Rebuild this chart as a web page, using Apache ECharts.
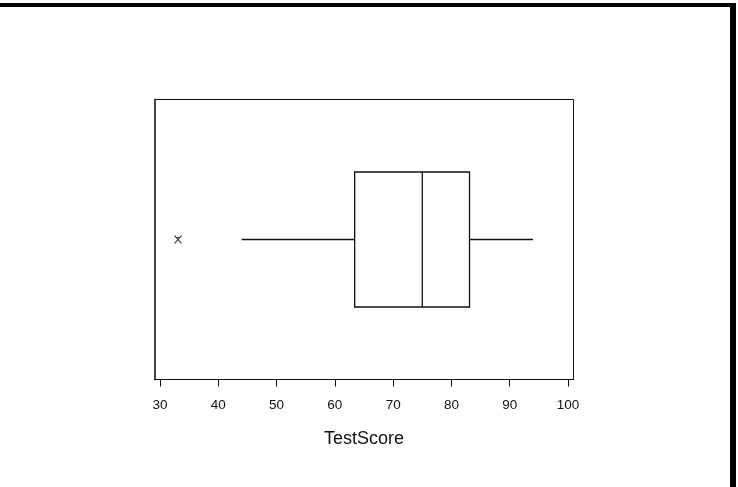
<!DOCTYPE html>
<html>
<head>
<meta charset="utf-8">
<script src="https://cdn.jsdelivr.net/npm/echarts@6/dist/echarts.min.js"></script>
<style>html,body{margin:0;padding:0;background:#fff;}#c{width:738px;height:487px;}</style>
</head>
<body>
<div id="c"></div>
<script>
var categories = ['TestScore'];
// [whiskerLow, Q1, median, Q3, whiskerHigh]
var boxValues = [[44, 63.4, 75, 83.1, 94]];
var outliers = [[33.1, 'TestScore']];
var tickLabels = [30, 40, 50, 60, 70, 80, 90, 100];

var chart = echarts.init(document.getElementById('c'), null, {renderer: 'canvas'});
var font = 'Liberation Sans, Arial, sans-serif';

chart.setOption({
  animation: false,
  backgroundColor: '#fff',
  grid: {left: 154.5, right: 164.5, top: 99.5, bottom: 107.5, show: true, borderColor: '#111', borderWidth: 1, backgroundColor: 'transparent'},
  xAxis: {
    type: 'value', min: 29.06, max: 100.94,
    name: 'TestScore', nameLocation: 'middle', nameGap: 51,
    nameTextStyle: {fontFamily: font, fontSize: 18, color: '#111'},
    splitLine: {show: false},
    axisLine: {show: true, lineStyle: {color: '#111', width: 1}},
    axisTick: {show: true, length: 7, customValues: tickLabels, lineStyle: {color: '#111', width: 1}},
    axisLabel: {customValues: tickLabels, fontFamily: font, fontSize: 13.5, color: '#111', margin: 19}
  },
  yAxis: {
    type: 'category', data: categories,
    axisLine: {show: true, lineStyle: {color: '#444', width: 2}},
    axisTick: {show: false}, axisLabel: {show: false}, splitLine: {show: false}
  },
  series: [
    {
      type: 'custom',
      data: boxValues.map(function (d, i) { return [i].concat(d); }),
      renderItem: function (params, api) {
        var c = api.value(0);
        var lo = api.coord([api.value(1), c]);
        var q1 = api.coord([api.value(2), c]);
        var md = api.coord([api.value(3), c]);
        var q3 = api.coord([api.value(4), c]);
        var hi = api.coord([api.value(5), c]);
        var half = 135 / 2;
        var y = q1[1];
        var st = {stroke: '#111', lineWidth: 1.3, fill: null};
        return {
          type: 'group',
          children: [
            {type: 'line', shape: {x1: lo[0], y1: y, x2: q1[0], y2: y}, style: st},
            {type: 'line', shape: {x1: q3[0], y1: y, x2: hi[0], y2: y}, style: st},
            {type: 'rect', shape: {x: q1[0], y: y - half, width: q3[0] - q1[0], height: 2 * half}, style: {stroke: '#111', lineWidth: 1.3, fill: '#fff'}},
            {type: 'line', shape: {x1: md[0], y1: y - half, x2: md[0], y2: y + half}, style: st}
          ]
        };
      }
    },
    {
      type: 'scatter',
      data: outliers,
      symbol: 'path://M0,0 L10,12 M10,0 L0,12 M1,3 L9,3',
      symbolSize: [7, 8],
      itemStyle: {color: 'transparent', borderColor: '#111', borderWidth: 1}
    }
  ],
  graphic: [
    {type: 'rect', shape: {x: 0, y: 3, width: 736, height: 4}, style: {fill: '#000'}},
    {type: 'rect', shape: {x: 730, y: 3, width: 6, height: 484}, style: {fill: '#000'}}
  ]
});
</script>
</body>
</html>
